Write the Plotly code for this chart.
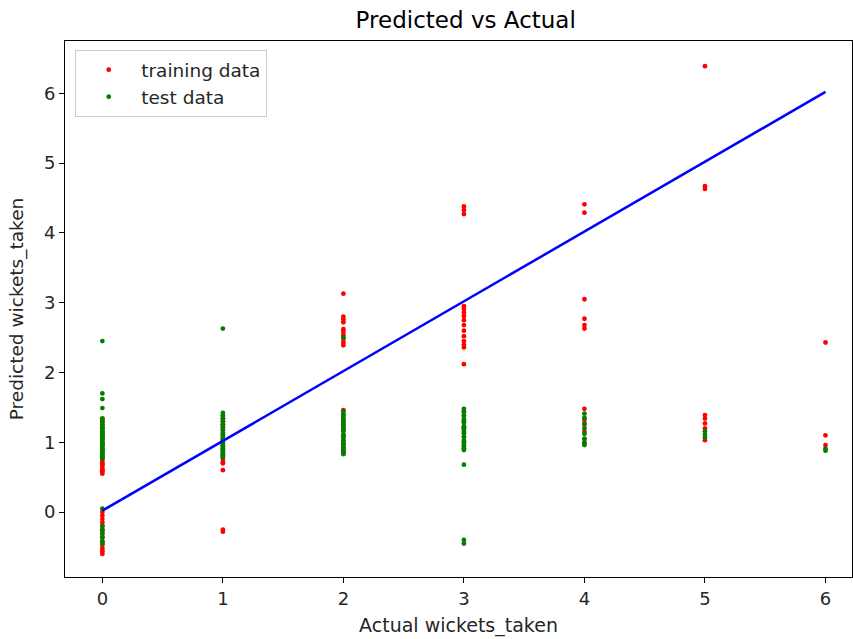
import plotly.graph_objects as go

# Predicted vs actual wickets for the training split
train_actual = (
    [0] * 34 + [1] * 20 + [2] * 22 + [3] * 24 + [4] * 12 + [5] * 8 + [6] * 3
)
train_pred = (
    # actual = 0
    [0.55, 0.58, 0.62, 0.66, 0.70, 0.74, 0.78, 0.82, 0.86, 0.90, 0.95, 1.00,
     1.05, 1.10, 1.15, 1.20, 1.25, 1.30, 1.34, 0.60, 0.68,
     0.00, -0.05, -0.10, -0.15, -0.20, -0.26, -0.31, -0.36, -0.42, -0.47,
     -0.52, -0.56, -0.60]
    # actual = 1
    + [1.38, 1.34, 1.30, 1.26, 1.22, 1.18, 1.12, 1.06, 1.00, 0.95, 0.90,
       0.86, 0.82, 0.79, 0.76, 0.72, 0.70, 0.60, -0.25, -0.28]
    # actual = 2
    + [3.13, 2.80, 2.76, 2.72, 2.62, 2.58, 2.53, 2.48, 2.43, 2.39,
       1.46, 1.40, 1.33, 1.26, 1.18, 1.10, 1.03, 0.97, 0.92, 0.88, 0.85, 1.22]
    # actual = 3
    + [4.38, 4.33, 4.27, 2.95, 2.91, 2.86, 2.81, 2.75, 2.68, 2.60, 2.52,
       2.45, 2.40, 2.36, 2.12, 1.45, 1.38, 1.30, 1.22, 1.15, 1.08, 1.00,
       0.95, 0.91]
    # actual = 4
    + [4.41, 4.29, 3.05, 2.77, 2.68, 2.63, 1.48, 1.32, 1.25, 1.15, 1.05, 0.98]
    # actual = 5
    + [6.39, 4.67, 4.63, 1.39, 1.34, 1.27, 1.20, 1.03]
    # actual = 6
    + [2.43, 1.10, 0.96]
)

# Predicted vs actual wickets for the test split
test_actual = (
    [0] * 36 + [1] * 22 + [2] * 20 + [3] * 18 + [4] * 8 + [5] * 3 + [6] * 2
)
test_pred = (
    # actual = 0
    [2.45, 1.70, 1.62, 1.49, 1.34, 1.31, 1.28, 1.25, 1.22, 1.19, 1.16, 1.13,
     1.10, 1.07, 1.04, 1.01, 0.98, 0.95, 0.92, 0.89, 0.86, 0.83, 0.80, 0.77,
     1.20, 1.05, 0.97, 0.90, 1.12, 0.05, -0.20, -0.25, -0.30, -0.36, -0.42,
     -0.45]
    # actual = 1
    + [2.63, 1.42, 1.38, 1.34, 1.30, 1.26, 1.22, 1.18, 1.14, 1.10, 1.06,
       1.02, 0.98, 0.94, 0.90, 0.87, 0.84, 0.81, 0.78, 1.04, 0.96, 0.92]
    # actual = 2
    + [2.50, 1.44, 1.40, 1.36, 1.31, 1.26, 1.21, 1.16, 1.11, 1.06, 1.01,
       0.97, 0.93, 0.89, 0.86, 0.83, 1.19, 1.08, 0.99, 1.29]
    # actual = 3
    + [1.48, 1.43, 1.38, 1.33, 1.28, 1.23, 1.18, 1.13, 1.08, 1.03, 0.99,
       0.95, 0.92, 0.89, 1.20, 0.68, -0.40, -0.45]
    # actual = 4
    + [1.41, 1.35, 1.27, 1.20, 1.12, 1.05, 1.00, 0.96]
    # actual = 5
    + [1.16, 1.11, 1.07]
    # actual = 6
    + [0.91, 0.88]
)

# Reference line where prediction equals actual
line_x = [0, 6]
line_y = [0.02, 6.02]

x_ticks = [0, 1, 2, 3, 4, 5, 6]
y_ticks = [0, 1, 2, 3, 4, 5, 6]

FONT = "DejaVu Sans"

fig = go.Figure()
fig.add_trace(go.Scatter(
    x=train_actual, y=train_pred, mode="markers", name="training data",
    marker=dict(color="red", size=4.8, line=dict(width=0)),
))
fig.add_trace(go.Scatter(
    x=test_actual, y=test_pred, mode="markers", name="test data",
    marker=dict(color="green", size=4.8, line=dict(width=0)),
))
fig.add_trace(go.Scatter(
    x=line_x, y=line_y, mode="lines", showlegend=False,
    line=dict(color="blue", width=2.5),
))

axis_common = dict(
    showgrid=False, zeroline=False, showline=True, mirror=True,
    linecolor="black", linewidth=1, ticks="outside", ticklen=5,
    tickcolor="black", tickwidth=1,
    tickfont=dict(family=FONT, size=18, color="#262626"),
)

fig.update_layout(
    width=853, height=639,
    margin=dict(l=65, r=1, t=41, b=62),
    paper_bgcolor="white", plot_bgcolor="white",
    title=dict(text="Predicted vs Actual", x=0.546, xanchor="center",
               y=0.968, yanchor="middle",
               font=dict(family=FONT, size=23, color="black")),
    xaxis=dict(range=[-0.31, 6.22], tickvals=x_ticks,
               title=dict(text="Actual wickets_taken", standoff=11,
                          font=dict(family=FONT, size=19, color="#262626")),
               **axis_common),
    yaxis=dict(range=[-0.93, 6.75], tickvals=y_ticks,
               title=dict(text="Predicted wickets_taken", standoff=15,
                          font=dict(family=FONT, size=18.5, color="#262626")),
               **axis_common),
    legend=dict(x=0.013, y=0.983, xanchor="left", yanchor="top",
                bgcolor="rgba(255,255,255,0.8)", bordercolor="#cccccc",
                borderwidth=1, font=dict(family=FONT, size=18.5, color="#262626"),
                itemsizing="trace", itemwidth=55,
                tracegroupgap=0),
    showlegend=True,
)

fig.write_html("out.html")
